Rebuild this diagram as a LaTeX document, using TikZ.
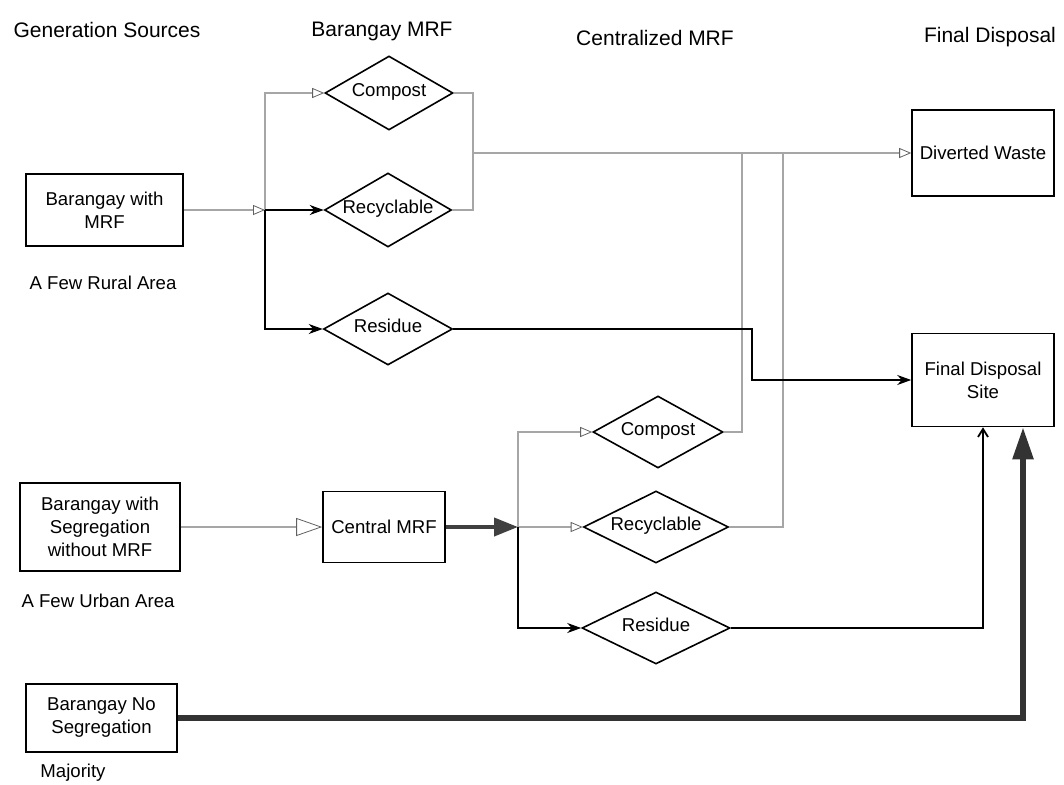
\documentclass[tikz,border=0pt]{standalone}
\usepackage{fontspec}
\setmainfont{Liberation Sans}
\usetikzlibrary{shapes.geometric,arrows.meta,calc}
\begin{document}
\begin{tikzpicture}[x=1pt,y=-1pt,
  every node/.style={font=\fontsize{18.6}{23}\selectfont},
  title/.style={font=\fontsize{21}{25}\selectfont},
  box/.style={draw, line width=1.6pt, align=center, inner sep=0pt},
  dia/.style={draw, diamond, line width=1.6pt, shape aspect=1.7, inner sep=0pt, text height=1.6ex, text depth=0.3ex},
  glink/.style={draw=black!62, double=black!35, line width=0.8pt, double distance=1.2pt},
  garrow/.style={-{Triangle[open,length=12pt,width=10pt]}},
  bigopen/.style={-{Triangle[open,length=26pt,width=18pt]}},
  blink/.style={draw=black, line width=1.8pt},
  barrow/.style={-{Stealth[length=14pt,width=10pt]}},
  heavy/.style={draw=black!75, line width=4pt},
  heavyarrow/.style={-{Triangle[length=24pt,width=18pt]}},
  massive/.style={draw=black!80, line width=5.5pt},
  massivearrow/.style={-{Triangle[length=32pt,width=20pt]}},
  barb/.style={-{Straight Barb[length=8pt,width=10pt]}}
]
\useasboundingbox (0,0) rectangle (1064,784);

% column titles
\node[title] (tgs) at (107,30) {Generation Sources};
\node[title] (tbm) at (382,31) {Barangay MRF};
\node[title] (tcm) at (655,38) {Centralized MRF};
\node[title] (tfd) at (990,37) {Final Disposal};

% generation sources
\node[box, minimum width=157pt, minimum height=72pt] (bwm) at (104.5,210) {Barangay with\\MRF};
\node (rural) at (103,283) {A Few Rural Area};
\node[box, minimum width=160pt, minimum height=88pt] (bsw) at (100,527) {Barangay with\\Segregation\\without MRF};
\node (urban) at (98,601) {A Few Urban Area};
\node[box, minimum width=151pt, minimum height=68pt] (bns) at (101.5,718) {Barangay No\\Segregation};
\node (maj) at (73,773) {Majority};

% central MRF
\node[box, minimum width=122pt, minimum height=71pt] (cmrf) at (384,527) {Central MRF};

% final disposal
\node[box, minimum width=142pt, minimum height=86pt] (dw) at (983,153) {Diverted Waste};
\node[box, minimum width=142pt, minimum height=93pt] (fds) at (983,380) {Final Disposal\\Site};

% diamonds
\node[dia, minimum width=128pt, minimum height=74pt] (c1) at (389,93) {Compost};
\node[dia, minimum width=127pt, minimum height=74pt] (r1) at (388,210) {Recyclable};
\node[dia, minimum width=129pt, minimum height=72pt] (s1) at (388,329) {Residue};
\node[dia, minimum width=130pt, minimum height=72pt] (c2) at (658,432) {Compost};
\node[dia, minimum width=145pt, minimum height=72pt] (r2) at (656,527) {Recyclable};
\node[dia, minimum width=148pt, minimum height=72pt] (s2) at (656,628) {Residue};

% junction points
\coordinate (b1) at (265,210);
\coordinate (b2) at (518,527);
\coordinate (m1) at (473,153);
\coordinate (m2) at (742,153);
\coordinate (m3) at (783,153);
\coordinate (jr) at (752,350);
\coordinate (fdr) at ([xshift=40pt]fds.south);

% upper flows
\draw[glink, garrow] (bwm.east) -- (b1);
\draw[glink, garrow] (b1) |- (c1.west);
\draw[blink, barrow] (b1) -- (r1.west);
\draw[blink, barrow] (b1) |- (s1.west);
\draw[glink] (c1.east) -| (m1);
\draw[glink] (r1.east) -| (m1);
\draw[glink] (c2.east) -| (m2);
\draw[glink] (r2.east) -| (m3);
\draw[glink, garrow] (m1) -- (dw.west);
\draw[blink, barrow] (s1.east) -| (jr) |- (fds.west);

% lower flows
\draw[glink, bigopen] (bsw.east) -- (cmrf.west);
\draw[heavy, heavyarrow] (cmrf.east) -- (b2);
\draw[glink, garrow] (b2) |- (c2.west);
\draw[glink, garrow] (b2) -- (r2.west);
\draw[blink, barrow] (b2) |- (s2.west);
\draw[blink, barb] (s2.east) -| (fds.south);
\draw[massive, massivearrow] (bns.east) -| (fdr);
\end{tikzpicture}
\end{document}
